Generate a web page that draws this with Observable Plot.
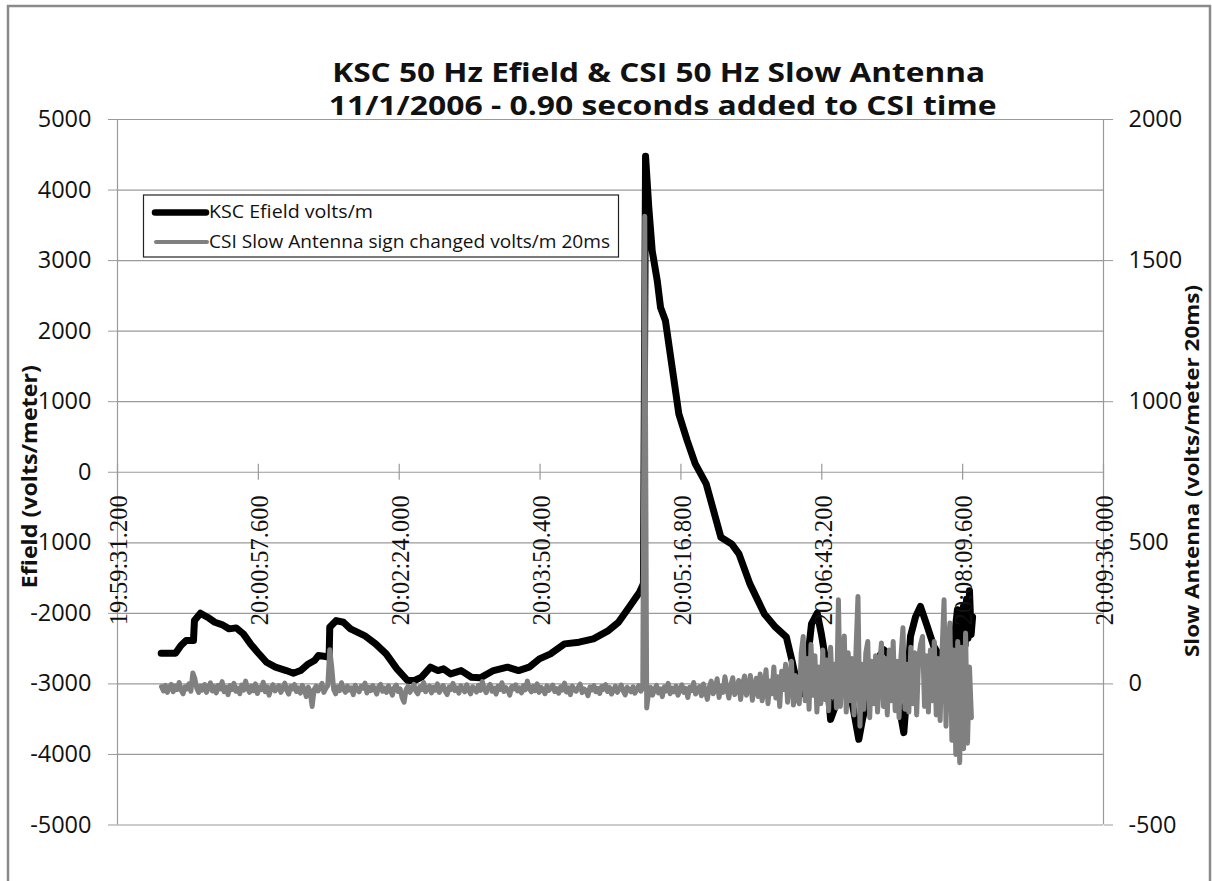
<!DOCTYPE html>
<html><head><meta charset="utf-8">
<script src="https://cdn.jsdelivr.net/npm/d3@7"></script>
<script src="https://cdn.jsdelivr.net/npm/@observablehq/plot@0.6"></script>
<style>
html,body{margin:0;padding:0;background:#fff;}
#chart svg{display:block;}
</style></head><body><div id="chart"></div>
<script>
// ---- data ----
const titleLines = ["KSC 50 Hz Efield & CSI 50 Hz Slow Antenna", "11/1/2006 - 0.90 seconds added to CSI time"];
const leftTitle = "Efield (volts/meter)";
const rightTitle = "Slow Antenna (volts/meter 20ms)";
const seriesNames = ["KSC Efield volts/m", "CSI Slow Antenna sign changed volts/m 20ms"];
const xTickLabels = ["19:59:31.200","20:00:57.600","20:02:24.000","20:03:50.400","20:05:16.800","20:06:43.200","20:08:09.600","20:09:36.000"];
const leftTicks = [-5000,-4000,-3000,-2000,-1000,0,1000,2000,3000,4000,5000];
const rightTicks = [-500,0,500,1000,1500,2000];

// KSC Efield: seconds after 19:59:31.200, volts/m (left axis)
const ksT = [26.8,35.6,38.9,42.1,46.6,47.2,50.9,55.2,59.7,64.0,68.5,72.8,77.2,81.6,85.9,91.4,96.9,103.5,107.9,112.3,116.5,120.8,123.2,127.6,129.8,130.2,134.1,138.6,142.9,151.5,158.3,164.8,171.4,177.9,182.2,186.5,192.0,196.6,200.0,204.3,210.8,217.1,222.6,230.6,239.2,246.0,252.5,258.8,265.6,274.2,283.1,291.9,300.6,307.3,313.8,320.2,322.6,323.9,325.9,328.0,331.1,333.1,336.1,340.2,344.3,349.4,354.4,361.1,370.1,376.7,381.2,387.9,396.8,403.6,410.3,413.7,415.9,418.9,422.6,425.7,429.2,431.8,434.3,437.4,439.8,443.5,447.2,450.9,454.7,457.0,459.9,463.1,466.0,470.0,474.1,477.8,482.3,484.6,486.4,489.5,492.5,496.7,500.7,504.8,509.1,512.8,514.0,515.2,516.2,517.1,518.0,518.9,519.9,520.8,521.7,522.6,523.6,524.5];
const ksV = [-2565,-2565,-2456,-2385,-2385,-2102,-1998,-2055,-2126,-2159,-2220,-2206,-2291,-2433,-2551,-2693,-2763,-2811,-2848,-2811,-2726,-2669,-2598,-2612,-2622,-2197,-2102,-2126,-2220,-2315,-2433,-2574,-2787,-2952,-2952,-2905,-2763,-2811,-2787,-2858,-2811,-2905,-2914,-2811,-2763,-2811,-2763,-2645,-2574,-2433,-2409,-2362,-2253,-2126,-1913,-1700,-1582,4480,3748,3136,2712,2335,2147,1487,828,452,118,-165,-921,-1016,-1157,-1582,-2008,-2196,-2338,-2669,-2900,-3150,-2800,-2150,-1996,-2300,-2655,-3503,-3350,-2950,-2900,-3300,-3785,-3500,-3220,-2750,-2655,-2514,-2608,-3100,-3691,-3000,-2326,-2050,-1902,-2185,-2467,-2620,-2900,-2500,-2200,-1950,-2450,-2000,-2500,-1900,-2450,-1800,-2350,-1680,-2300,-2050];

// CSI slow antenna: one reading every 1.2 s from 27.0 s, volts/m (right axis)
const csiStart = 27.0, csiStep = 1.2;
const csiV = [
-10,-25,-5,-30,-12,-2,-28,-8,-20,5,-22,-35,-10,-18,0,-26,39,20,-15,-30,
-8,-22,-2,-30,-14,4,-25,-10,-32,-5,-18,8,-28,-12,-38,-6,-20,2,-26,-15,
-35,-4,-22,10,-16,-30,-8,-24,0,-34,-12,-20,6,-28,-10,-40,-14,-3,-25,-18,
-6,-30,-15,3,-22,-36,-9,-18,-2,-27,-14,-33,-5,-20,-45,-12,-28,-80,-20,-8,
-25,-12,2,-30,-16,-6,121,60,-20,-35,-10,-24,4,-18,-30,-8,-22,-14,-38,-5,
-20,-28,-9,-15,3,-32,-12,-24,-6,-19,-36,-10,-2,-26,-15,-30,-7,-22,-40,-13,
-4,-27,-18,-50,-65,-20,-8,-30,-14,-2,-25,-35,-10,-20,5,-28,-16,-8,-32,-12,
-22,0,-30,-15,-6,-26,-38,-11,-20,2,-24,-14,-33,-7,-18,-28,-3,-21,-35,-10,
-17,-29,-5,-23,8,-19,-31,-12,-2,-26,-15,-36,-8,-20,4,-27,-13,-22,-40,-9,
-18,-3,-25,-14,-32,-6,-21,10,-16,-28,-9,-24,0,-30,-12,-19,-35,-7,-23,-15,
-4,-27,-17,-33,-10,-22,3,-29,-14,-38,-8,-20,-26,-12,-1,-31,-18,-24,-42,-11,
-21,-6,-28,-16,-34,-9,-19,-2,-27,-13,-36,-22,-8,-30,-17,-4,-25,-39,-12,-20,
-28,-10,-33,-18,-6,-26,-15,
1657,
-85,-30,-12,-40,-20,-5,-32,-18,-45,-10,-25,2,-35,-15,-28,-8,-40,-20,-3,-30,-16,-48,-12,-24,5,-36,-19,-10,
-42,0,-26,-55,-12,10,-35,-20,18,-48,-8,-30,25,-15,-50,-5,22,-38,-22,12,-55,-2,28,-40,-15,30,-58,-10,20,-45,
35,-60,-15,50,-70,10,-35,60,-50,25,-80,45,-20,70,-65,5,80,-75,30,-55,
-70,110,168,-60,90,-90,140,-40,100,-100,60,-70,120,-55,85,-95,130,-45,70,-85,
298,
-80,60,170,-100,110,-60,90,-110,120,310,-150,70,-90,110,150,-120,80,-70,100,
-100,60,145,-80,90,-110,120,-60,150,-95,80,-120,100,199,-90,70,-100,130,-70,110,
-110,90,140,168,-80,100,-100,120,-60,150,-110,90,-130,120,298,-150,140,216,-200,120,
-250,150,-279,130,-230,180,-210,60,-120
];

// ---- helpers ----
const parseT = s => { const [h,m,sec] = s.split(":"); const [ss,ms] = sec.split("."); return new Date(Date.UTC(2006,10,1,+h,+m,+ss,+ms)); };
const xTicks = xTickLabels.map(parseT);
const t0 = xTicks[0];
const at = s => new Date(t0.getTime() + s*1000);
const ks = ksT.map((t,i) => ({t: at(t), v: ksV[i]}));
const csi = csiV.map((v,i) => ({t: at(csiStart + i*csiStep), v}));
// right axis [-500,2000] shares the frame with left axis [-5000,5000]
const r2l = v => (v + 500) / 2500 * 10000 - 5000;
const l2r = v => (v + 5000) / 10000 * 2500 - 500;

const grid = "#9a9a9a";
const chart = Plot.plot({
  width: 1212, height: 881,
  marginLeft: 117, marginRight: 109, marginTop: 119, marginBottom: 56.5,
  style: {fontFamily: "'Open Sans', sans-serif", background: "white", overflow: "visible"},
  x: {type: "utc", domain: [xTicks[0], xTicks[xTicks.length-1]], axis: null},
  y: {domain: [-5000, 5000], axis: null},
  marks: [
    Plot.ruleY(leftTicks, {stroke: grid, strokeWidth: 1.2}),
    Plot.ruleX([xTicks[0], xTicks[xTicks.length-1]], {stroke: grid, strokeWidth: 1.2}),
    Plot.axisY({anchor: "left", ticks: leftTicks, tickSize: 9, tickPadding: 17, fontSize: 23.5, label: null, stroke: grid, fill: "#111", tickFormat: d => String(d)}),
    Plot.axisY({anchor: "right", ticks: rightTicks.map(r2l), tickSize: 9, tickPadding: 16, fontSize: 23.5, label: null, stroke: grid, fill: "#111", tickFormat: d => String(Math.round(l2r(d)))}),
    Plot.ruleX(xTicks, {y1: 0, y2: 0, insetTop: -8, insetBottom: -8, stroke: grid, strokeWidth: 1.2}),
    Plot.line(ks, {x: "t", y: "v", stroke: "black", strokeWidth: 7, strokeLinejoin: "round", strokeLinecap: "round"}),
    Plot.line(csi, {x: "t", y: d => r2l(d.v), stroke: "#808080", strokeWidth: 5, strokeLinejoin: "round"}),
    Plot.text(xTicks, {x: d => d, y: 0, text: (d,i) => xTickLabels[i], rotate: -90, textAnchor: "end", dy: 23, dx: 2, fontSize: 24.5, fontFamily: "'Liberation Serif', serif", fill: "#111"})
  ]
});
document.getElementById("chart").appendChild(chart);

const svg = d3.select(chart);
// outer chart border
svg.append("path").attr("d", "M8,890V6H1210V890").attr("stroke", "#8a8a8a").attr("stroke-width", 2.5).attr("fill", "none");

// title
const tg = svg.append("g").attr("font-family", "'Open Sans', sans-serif").attr("font-weight", "bold").attr("fill", "#111").attr("text-anchor", "middle");
tg.append("text").attr("x", 658.7).attr("y", 81.5).attr("font-size", 27.5).attr("textLength", 653).attr("lengthAdjust", "spacingAndGlyphs").text(titleLines[0]);
tg.append("text").attr("x", 662.7).attr("y", 115).attr("font-size", 27.5).attr("textLength", 668).attr("lengthAdjust", "spacingAndGlyphs").text(titleLines[1]);

// axis titles
const ag = svg.append("g").attr("font-family", "'Open Sans', sans-serif").attr("font-weight", "bold").attr("fill", "#111").attr("text-anchor", "middle");
ag.append("text").attr("transform", "translate(37,476.7) rotate(-90)").attr("font-size", 21).attr("textLength", 223).attr("lengthAdjust", "spacingAndGlyphs").text(leftTitle);
ag.append("text").attr("transform", "translate(1199,471) rotate(-90)").attr("font-size", 19.5).attr("textLength", 372).attr("lengthAdjust", "spacingAndGlyphs").text(rightTitle);

// legend
const lg = svg.append("g").attr("font-family", "'Open Sans', sans-serif").attr("text-anchor", "start");
lg.append("rect").attr("x", 143.5).attr("y", 195).attr("width", 475).attr("height", 62).attr("fill", "white").attr("stroke", "#222").attr("stroke-width", 1.2);
lg.append("line").attr("x1", 155).attr("x2", 206).attr("y1", 212.5).attr("y2", 212.5).attr("stroke", "black").attr("stroke-width", 6.5).attr("stroke-linecap", "round");
lg.append("line").attr("x1", 156).attr("x2", 207).attr("y1", 242).attr("y2", 242).attr("stroke", "#808080").attr("stroke-width", 4).attr("stroke-linecap", "round");
lg.append("text").attr("x", 209).attr("y", 218).attr("font-size", 18.5).attr("fill", "#111").attr("textLength", 164).attr("lengthAdjust", "spacingAndGlyphs").text(seriesNames[0]);
lg.append("text").attr("x", 209).attr("y", 247.5).attr("font-size", 18.5).attr("fill", "#111").attr("textLength", 401).attr("lengthAdjust", "spacingAndGlyphs").text(seriesNames[1]);
</script></body></html>
